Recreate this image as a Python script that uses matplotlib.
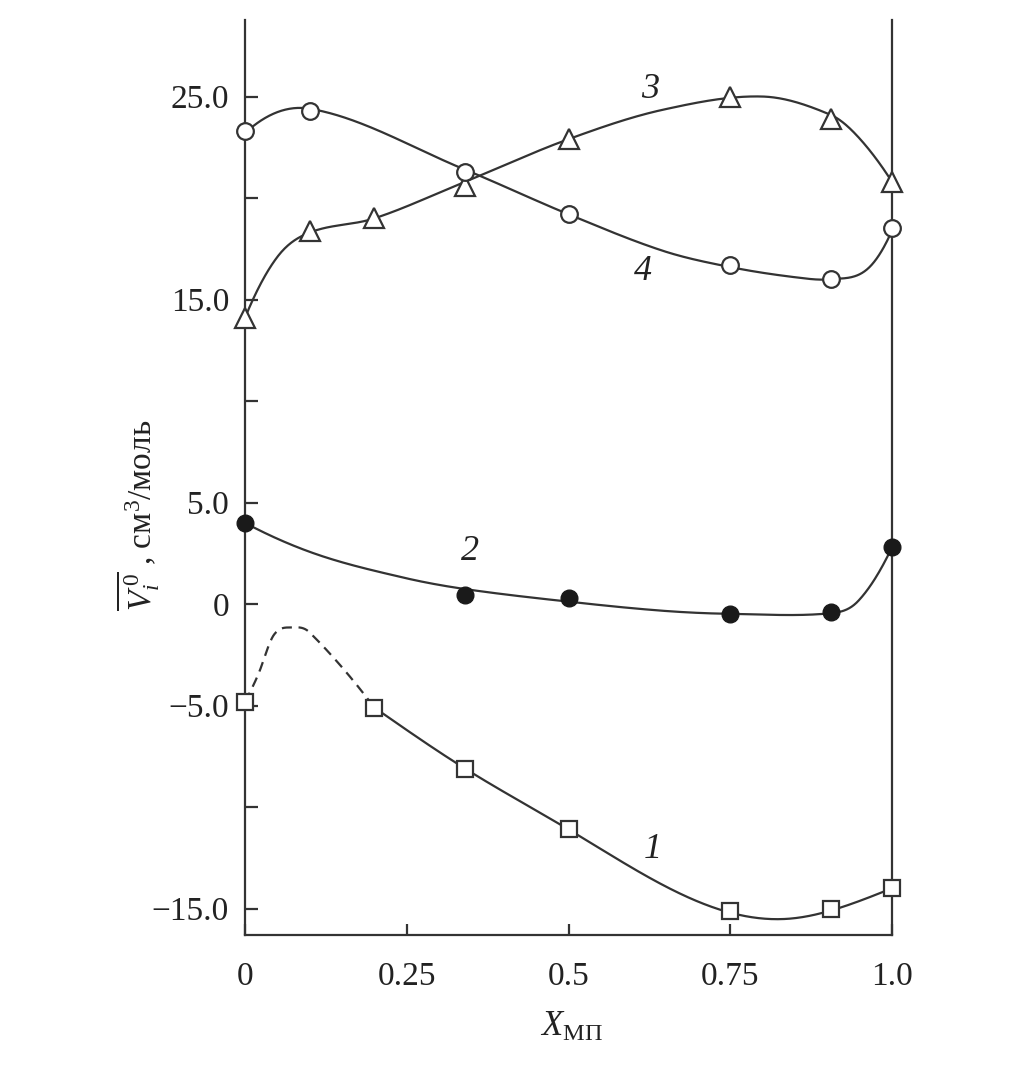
import numpy as np
import matplotlib
matplotlib.use("Agg")
import matplotlib.pyplot as plt

plt.rcParams['font.family'] = ['Liberation Serif', 'DejaVu Serif']
plt.rcParams['mathtext.fontset'] = 'custom'
plt.rcParams['mathtext.rm'] = 'Liberation Serif'
plt.rcParams['mathtext.it'] = 'Liberation Serif:italic'
plt.rcParams['mathtext.bf'] = 'Liberation Serif:bold'

# ---- data ----
# markers
x1 = [0.0, 0.2, 0.34, 0.5, 0.75, 0.905, 1.0]
y1 = [-4.8, -5.1, -8.1, -11.1, -15.1, -15.0, -14.0]
x2 = [0.0, 0.34, 0.5, 0.75, 0.905, 1.0]
y2 = [4.0, 0.45, 0.3, -0.5, -0.4, 2.8]
x3 = [0.0, 0.1, 0.2, 0.34, 0.5, 0.75, 0.905, 1.0]
y3 = [14.1, 18.4, 19.0, 20.6, 22.9, 25.0, 23.9, 20.8]
x4 = [0.0, 0.1, 0.34, 0.5, 0.75, 0.905, 1.0]
y4 = [23.3, 24.3, 21.3, 19.2, 16.7, 16.0, 18.5]

# drawn (smoothed) curves
curve1_x = [0.2, 0.34, 0.5, 0.75, 0.84, 0.905, 1.0]
curve1_y = [-5.1, -8.1, -11.1, -15.2, -15.5, -15.1, -14.0]
dash1_x = [0.0, 0.02, 0.045, 0.075, 0.1, 0.2]
dash1_y = [-4.8, -3.5, -1.5, -1.15, -1.4, -5.1]
curve2_x = [0.0, 0.11, 0.244, 0.34, 0.5, 0.646, 0.75, 0.905, 0.948, 1.0]
curve2_y = [4.0, 2.46, 1.31, 0.74, 0.12, -0.33, -0.48, -0.45, 0.16, 2.8]
curve3_x = [0.0, 0.05, 0.1, 0.2, 0.34, 0.5, 0.646, 0.8, 0.905, 0.948, 1.0]
curve3_y = [14.1, 17.1, 18.3, 19.0, 20.8, 22.9, 24.35, 25.0, 24.1, 23.0, 20.8]
curve4_x = [0.0, 0.1, 0.34, 0.5, 0.646, 0.75, 0.85, 0.905, 0.96, 1.0]
curve4_y = [23.2, 24.4, 21.4, 19.2, 17.4, 16.6, 16.1, 16.0, 16.45, 18.4]

xticks = [0, 0.25, 0.5, 0.75, 1.0]
xticklabels = ['0', '0.25', '0.5', '0.75', '1.0']
yticks = [-15, -10, -5, 0, 5, 10, 15, 20, 25]
yticklabels = ['\u221215.0', '', '\u22125.0', '0', '5.0', '', '15.0', '', '25.0']
curve_labels = ['1', '2', '3', '4']
curve_label_x = [0.631, 0.348, 0.626, 0.615]
curve_label_y = [-12.1, 2.6, 25.35, 16.4]


def natural_spline(x, y, xs):
    x = np.asarray(x, float); y = np.asarray(y, float)
    n = len(x)
    h = np.diff(x)
    A = np.zeros((n, n)); b = np.zeros(n)
    A[0, 0] = 1; A[-1, -1] = 1
    for i in range(1, n - 1):
        A[i, i - 1] = h[i - 1]
        A[i, i] = 2 * (h[i - 1] + h[i])
        A[i, i + 1] = h[i]
        b[i] = 6 * ((y[i + 1] - y[i]) / h[i] - (y[i] - y[i - 1]) / h[i - 1])
    M = np.linalg.solve(A, b)
    xs = np.asarray(xs, float)
    idx = np.clip(np.searchsorted(x, xs) - 1, 0, n - 2)
    x0 = x[idx]; x1_ = x[idx + 1]; hh = x1_ - x0
    a = (x1_ - xs) / hh; c = (xs - x0) / hh
    return (a * y[idx] + c * y[idx + 1]
            + ((a ** 3 - a) * M[idx] + (c ** 3 - c) * M[idx + 1]) * hh ** 2 / 6)


def cardinal(x, y, xs):
    """C1 Hermite spline with centred-difference slopes (Catmull-Rom type)."""
    x = np.asarray(x, float); y = np.asarray(y, float)
    h = np.diff(x); d = np.diff(y) / h
    n = len(x)
    m = np.zeros(n)
    m[1:-1] = (y[2:] - y[:-2]) / (x[2:] - x[:-2])
    m[0] = 2 * d[0] - m[1]
    m[-1] = 2 * d[-1] - m[-2]
    xs = np.asarray(xs, float)
    idx = np.clip(np.searchsorted(x, xs) - 1, 0, n - 2)
    t = (xs - x[idx]) / h[idx]
    h00 = 2 * t**3 - 3 * t**2 + 1; h10 = t**3 - 2 * t**2 + t
    h01 = -2 * t**3 + 3 * t**2; h11 = t**3 - t**2
    return h00 * y[idx] + h10 * h[idx] * m[idx] + h01 * y[idx + 1] + h11 * h[idx] * m[idx + 1]


col = '#333333'
tcol = '#222222'
fig = plt.figure(figsize=(10.10, 10.69), dpi=100)
ax = fig.add_axes([245 / 1010, 1 - 935 / 1069, (892 - 245) / 1010, (935 - 20) / 1069])

lw = 1.6
mew = 1.6
# curve 1
xs = np.linspace(curve1_x[0], curve1_x[-1], 400)
ax.plot(xs, natural_spline(curve1_x, curve1_y, xs), color=col, lw=lw, zorder=2)
xs = np.linspace(dash1_x[0], dash1_x[-1], 300)
ax.plot(xs, cardinal(dash1_x, dash1_y, xs), color=col, lw=lw, ls=(0, (4.5, 3)), zorder=2)
ax.plot(x1, y1, ls='none', marker='s', ms=12, mfc='white', mec=col, mew=mew, zorder=3, clip_on=False)

# curve 2
xs = np.linspace(0, 1, 800)
ax.plot(xs, cardinal(curve2_x, curve2_y, xs), color=col, lw=lw, zorder=2)
ax.plot(x2, y2, ls='none', marker='o', ms=12, mfc='#1a1a1a', mec='#1a1a1a', zorder=3, clip_on=False)

# curve 3
ax.plot(xs, cardinal(curve3_x, curve3_y, xs), color=col, lw=lw, zorder=2)
ax.plot(x3, y3, ls='none', marker='^', ms=15, mfc='white', mec=col, mew=mew, zorder=3, clip_on=False)

# curve 4
ax.plot(xs, cardinal(curve4_x, curve4_y, xs), color=col, lw=lw, zorder=2)
ax.plot(x4, y4, ls='none', marker='o', ms=12, mfc='white', mec=col, mew=mew, zorder=3, clip_on=False)

# curve labels
for t, px, py in zip(curve_labels, curve_label_x, curve_label_y):
    ax.text(px, py, t, fontsize=26, style='italic', color=tcol, ha='center', va='center')

ax.set_xlim(0, 1.0)
ax.set_ylim(-16.3, 28.77)
ax.set_xticks(xticks)
ax.set_xticklabels(xticklabels)
ax.set_yticks(yticks)
ax.set_yticklabels(yticklabels)
ax.spines['top'].set_visible(False)
for s in ['left', 'right', 'bottom']:
    ax.spines[s].set_linewidth(1.6)
    ax.spines[s].set_color(col)
ax.tick_params(axis='y', direction='in', length=9, width=1.6, color=col, labelsize=24, pad=11.5, labelcolor=tcol)
ax.tick_params(axis='x', direction='in', length=8, width=1.6, color=col, labelsize=24, pad=19, labelcolor=tcol)

fig.text(571 / 1010, 1 - 1027 / 1069, r'$X_{\mathrm{МП}}$', fontsize=25, ha='center', va='center', color=tcol)
fig.text(138 / 1010, 1 - 515 / 1069, r'$\overline{V_i^{\,0}}$ , см$^3$/моль', fontsize=24, rotation=90,
         ha='center', va='center', color=tcol)

fig.savefig('out.png', dpi=100)
